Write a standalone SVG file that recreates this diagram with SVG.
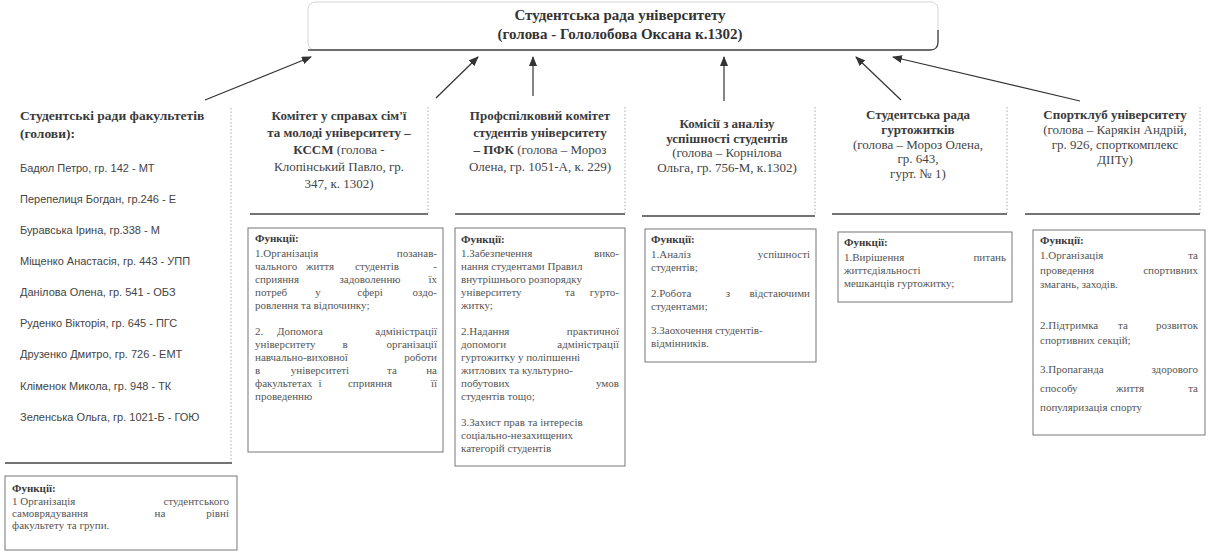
<svg xmlns="http://www.w3.org/2000/svg" width="1213" height="557" viewBox="0 0 1213 557">
<style>
.hb{font-family:"Liberation Serif",serif;font-size:13px;font-weight:bold;fill:#3a3a3a}
.hn{font-family:"Liberation Serif",serif;font-size:13px;fill:#444}
.tb{font-family:"Liberation Serif",serif;font-size:15px;font-weight:bold;fill:#333}
.ls{font-family:"Liberation Sans",sans-serif;font-size:11px;fill:#444}
.ft{font-family:"Liberation Serif",serif;font-size:11px;fill:#555}
.fb{font-family:"Liberation Serif",serif;font-size:11px;font-weight:bold;fill:#3a3a3a}
.dot{stroke:#aaa;stroke-width:1;stroke-dasharray:1.5 2;fill:none}
.bot{stroke:#444;stroke-width:1.3;fill:none}
.fbox{fill:none;stroke:#777;stroke-width:1}
.conn{stroke:#333;stroke-width:1.2;fill:none;marker-end:url(#ah)}
.e{text-anchor:end}
.m{text-anchor:middle}
</style>
<defs>
<marker id="ah" markerWidth="10" markerHeight="8" refX="9" refY="4" orient="auto" markerUnits="userSpaceOnUse">
<path d="M0,0 L10,4 L0,8 Z" fill="#333"/>
</marker>
</defs>
<rect width="1213" height="557" fill="#ffffff"/>

<g id="top">
<rect x="308" y="2" width="630" height="48" rx="7" fill="none" stroke="#d4d4d4" stroke-width="1"/>
<path d="M308,50 L930,50 Q938,50 938,42 L938,30" class="bot"/>
<text x="620" y="20" class="tb m">Студентська рада університету</text>
<text x="620" y="39" class="tb m">(голова - Гололобова Оксана к.1302)</text>
</g>

<g id="connectors">
<line x1="205" y1="100" x2="311" y2="57" class="conn"/>
<line x1="436" y1="98" x2="478" y2="57" class="conn"/>
<line x1="533" y1="96" x2="533" y2="57" class="conn"/>
<line x1="724" y1="101" x2="724" y2="57" class="conn"/>
<line x1="901" y1="100" x2="856" y2="57" class="conn"/>
<line x1="1080" y1="101" x2="893" y2="57" class="conn"/>
</g>

<g id="faculty-councils">
<path d="M231,108 L231,462" class="dot"/>
<path d="M5,463 L232,463" class="bot"/>
<text x="20" y="120" class="hb" style="font-size:13.5px">Студентські ради факультетів</text>
<text x="20" y="138" class="hb" style="font-size:13.5px">(голови):</text>
<text x="20" y="172" class="ls">Бадюл Петро, гр. 142 - МТ</text>
<text x="20" y="203" class="ls">Перепелиця Богдан, гр.246 - Е</text>
<text x="20" y="234" class="ls">Буравська Ірина, гр.338 - М</text>
<text x="20" y="265" class="ls">Міщенко Анастасія, гр. 443 - УПП</text>
<text x="20" y="296" class="ls">Данілова Олена, гр. 541 - ОБЗ</text>
<text x="20" y="327" class="ls">Руденко Вікторія, гр. 645 - ПГС</text>
<text x="20" y="358" class="ls">Друзенко Дмитро, гр. 726 - ЕМТ</text>
<text x="20" y="390" class="ls">Кліменок Микола, гр. 948 - ТК</text>
<text x="20" y="421" class="ls">Зеленська Ольга, гр. 1021-Б - ГОЮ</text>
</g>

<g id="faculty-functions">
<rect x="5" y="476" width="232" height="74" class="fbox"/>
<text x="12" y="492" class="fb">Функції:</text>
<text y="505" class="ft"><tspan x="12">1 Організація</tspan><tspan x="229" class="e">студентського</tspan></text>
<text y="517" class="ft"><tspan x="12">самоврядування</tspan><tspan x="160" class="m">на</tspan><tspan x="229" class="e">рівні</tspan></text>
<text x="12" y="529" class="ft">факультету та групи.</text>
</g>

<g id="kssm">
<path d="M428,107 L428,213" class="dot"/>
<path d="M250,214 L428,214" class="bot"/>
<text x="339" y="120" class="hb m">Комітет у справах сім'ї</text>
<text x="339" y="137" class="hb m">та молоді університету –</text>
<text x="339" y="154" class="hn m"><tspan class="hb">КССМ</tspan> (голова -</text>
<text x="339" y="171" class="hn m">Клопінський Павло, гр.</text>
<text x="339" y="188" class="hn m">347, к. 1302)</text>
</g>

<g id="kssm-functions">
<rect x="248" y="228" width="195" height="224" class="fbox"/>
<text x="255" y="242" class="fb">Функції:</text>
<text y="257" class="ft"><tspan x="255">1.Організація</tspan><tspan x="437" class="e">позанав-</tspan></text>
<text y="270" class="ft"><tspan x="255">чального</tspan><tspan x="320" class="m">життя</tspan><tspan x="377" class="m">студентів</tspan><tspan x="437" class="e">-</tspan></text>
<text y="283" class="ft"><tspan x="255">сприяння</tspan><tspan x="370" class="m">задоволенню</tspan><tspan x="437" class="e">їх</tspan></text>
<text y="296" class="ft"><tspan x="255">потреб</tspan><tspan x="318" class="m">у</tspan><tspan x="370" class="m">сфері</tspan><tspan x="437" class="e">оздо-</tspan></text>
<text x="255" y="309" class="ft">ровлення та  відпочинку;</text>
<text y="335" class="ft"><tspan x="255">2.</tspan><tspan x="300" class="m">Допомога</tspan><tspan x="437" class="e">адміністрації</tspan></text>
<text y="348" class="ft"><tspan x="255">університету</tspan><tspan x="345" class="m">в</tspan><tspan x="437" class="e">організації</tspan></text>
<text y="361" class="ft"><tspan x="255">навчально-виховної</tspan><tspan x="437" class="e">роботи</tspan></text>
<text y="374" class="ft"><tspan x="255">в</tspan><tspan x="320" class="m">університеті</tspan><tspan x="392" class="m">та</tspan><tspan x="437" class="e">на</tspan></text>
<text y="387" class="ft"><tspan x="255">факультетах</tspan><tspan x="320" class="m">і</tspan><tspan x="370" class="m">сприяння</tspan><tspan x="437" class="e">її</tspan></text>
<text x="255" y="400" class="ft">проведенню</text>
</g>

<g id="pfk">
<path d="M625,107 L625,213" class="dot"/>
<path d="M455,214 L625,214" class="bot"/>
<text x="540" y="120" class="hb m">Профспілковий комітет</text>
<text x="540" y="137" class="hb m">студентів університету</text>
<text x="540" y="154" class="hn m"><tspan class="hb">– ПФК</tspan> (голова – Мороз</text>
<text x="540" y="171" class="hn m">Олена, гр. 1051-А, к. 229)</text>
</g>

<g id="pfk-functions">
<rect x="455" y="228" width="170" height="238" class="fbox"/>
<text x="461" y="243" class="fb">Функції:</text>
<text y="257" class="ft"><tspan x="461">1.Забезпечення</tspan><tspan x="619" class="e">вико-</tspan></text>
<text x="461" y="270" class="ft">нання студентами Правил</text>
<text x="461" y="283" class="ft">внутрішнього розпорядку</text>
<text y="296" class="ft"><tspan x="461">університету</tspan><tspan x="570" class="m">та</tspan><tspan x="619" class="e">гурто-</tspan></text>
<text x="461" y="309" class="ft">житку;</text>
<text y="335" class="ft"><tspan x="461">2.Надання</tspan><tspan x="619" class="e">практичної</tspan></text>
<text y="348" class="ft"><tspan x="461">допомоги</tspan><tspan x="619" class="e">адміністрації</tspan></text>
<text x="461" y="361" class="ft">гуртожитку у поліпшенні</text>
<text x="461" y="374" class="ft">житлових та культурно-</text>
<text y="387" class="ft"><tspan x="461">побутових</tspan><tspan x="619" class="e">умов</tspan></text>
<text x="461" y="400" class="ft">студентів тощо;</text>
<text x="461" y="426" class="ft">3.Захист прав та інтересів</text>
<text x="461" y="439" class="ft">соціально-незахищених</text>
<text x="461" y="452" class="ft">категорій студентів</text>
</g>

<g id="analysis">
<path d="M815,107 L815,215" class="dot"/>
<path d="M642,216 L815,216" class="bot"/>
<text x="727" y="128" class="hb m">Комісії з аналізу</text>
<text x="727" y="143" class="hb m">успішності студентів</text>
<text x="727" y="157" class="hn m">(голова – Корнілова</text>
<text x="727" y="172" class="hn m">Ольга, гр. 756-М, к.1302)</text>
</g>

<g id="analysis-functions">
<rect x="645" y="229" width="171" height="133" class="fbox"/>
<text x="651" y="243" class="fb">Функції:</text>
<text y="258" class="ft"><tspan x="651">1.Аналіз</tspan><tspan x="810" class="e">успішності</tspan></text>
<text x="651" y="271" class="ft">студентів;</text>
<text y="297" class="ft"><tspan x="651">2.Робота</tspan><tspan x="728" class="m">з</tspan><tspan x="810" class="e">відстаючими</tspan></text>
<text x="651" y="310" class="ft">студентами;</text>
<text x="651" y="334" class="ft">3.Заохочення студентів-</text>
<text x="651" y="347" class="ft">відмінників.</text>
</g>

<g id="dorm">
<path d="M1007,107 L1007,213" class="dot"/>
<path d="M832,214 L1007,214" class="bot"/>
<text x="918" y="119" class="hb m">Студентська рада</text>
<text x="918" y="134" class="hb m">гуртожитків</text>
<text x="918" y="149" class="hn m">(голова – Мороз Олена,</text>
<text x="918" y="163" class="hn m">гр. 643,</text>
<text x="918" y="178" class="hn m">гурт. № 1)</text>
</g>

<g id="dorm-functions">
<rect x="838" y="232" width="174" height="70" class="fbox"/>
<text x="844" y="246" class="fb">Функції:</text>
<text y="261" class="ft"><tspan x="844">1.Вирішення</tspan><tspan x="1006" class="e">питань</tspan></text>
<text x="844" y="274" class="ft">життєдіяльності</text>
<text x="844" y="287" class="ft">мешканців гуртожитку;</text>
</g>

<g id="sport">
<path d="M1200,107 L1200,213" class="dot"/>
<path d="M1025,214 L1200,214" class="bot"/>
<text x="1115" y="119" class="hb m">Спортклуб університету</text>
<text x="1115" y="134" class="hn m">(голова – Карякін Андрій,</text>
<text x="1115" y="149" class="hn m">гр. 926, спорткомплекс</text>
<text x="1115" y="164" class="hn m">ДІІТу)</text>
</g>

<g id="sport-functions">
<rect x="1033" y="230" width="172" height="205" class="fbox"/>
<text x="1040" y="244" class="fb">Функції:</text>
<text y="259" class="ft"><tspan x="1040">1.Організація</tspan><tspan x="1198" class="e">та</tspan></text>
<text y="274" class="ft"><tspan x="1040">проведення</tspan><tspan x="1198" class="e">спортивних</tspan></text>
<text x="1040" y="288" class="ft">змагань, заходів.</text>
<text y="329" class="ft"><tspan x="1040">2.Підтримка</tspan><tspan x="1123" class="m">та</tspan><tspan x="1198" class="e">розвиток</tspan></text>
<text x="1040" y="344" class="ft">спортивних секцій;</text>
<text y="373" class="ft"><tspan x="1040">3.Пропаганда</tspan><tspan x="1198" class="e">здорового</tspan></text>
<text y="392" class="ft"><tspan x="1040">способу</tspan><tspan x="1130" class="m">життя</tspan><tspan x="1198" class="e">та</tspan></text>
<text x="1040" y="411" class="ft">популяризація спорту</text>
</g>
</svg>
